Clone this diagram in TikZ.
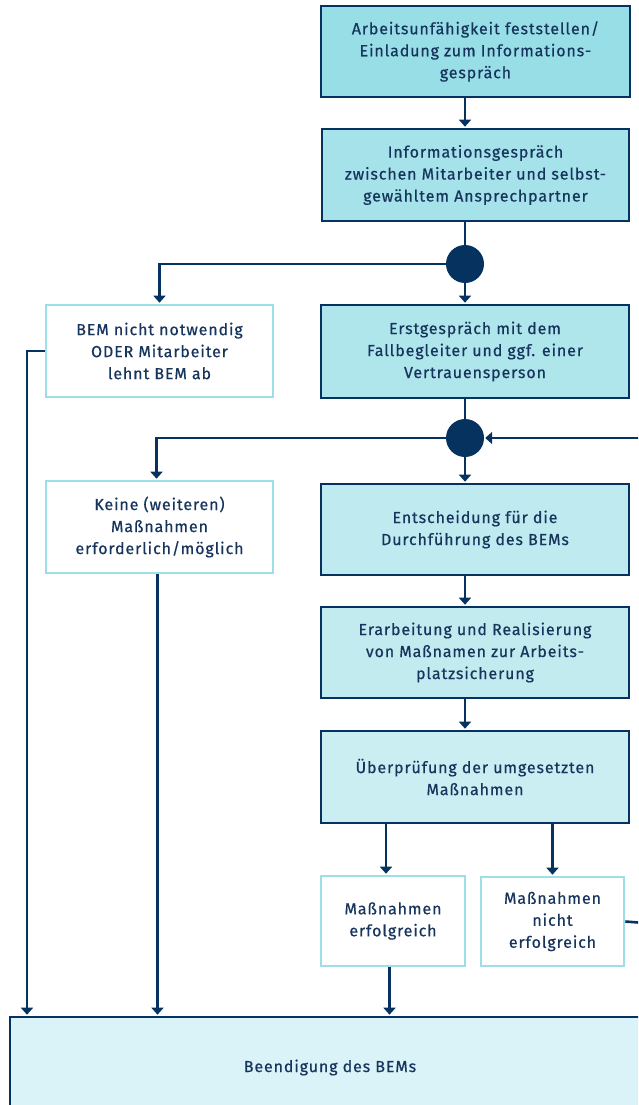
\documentclass[tikz,border=0pt]{standalone}
\usepackage{fontspec}
\setmainfont{Fira Sans}[LetterSpace=5.5, FakeBold=0.5]
\usetikzlibrary{arrows.meta}
\definecolor{navy}{RGB}{6,50,96}
\definecolor{txt}{RGB}{22,52,92}
\definecolor{lborder}{RGB}{158,223,231}
\definecolor{f1}{RGB}{151,222,230}
\definecolor{f2}{RGB}{165,226,234}
\definecolor{f3}{RGB}{175,230,236}
\definecolor{f4}{RGB}{190,234,240}
\definecolor{f5}{RGB}{194,235,240}
\definecolor{f6}{RGB}{203,238,243}
\definecolor{fb}{RGB}{218,243,248}
\tikzset{
  boxtext/.style={inner sep=0pt, align=center, text=txt,
    font=\fontsize{16}{22}\selectfont, execute at begin node={\rule{0pt}{15.5pt}}},
  mainbox/.style={boxtext, draw=navy, line width=2.6pt},
  sidebox/.style={boxtext, draw=lborder, fill=white, line width=2.6pt},
  conn/.style={draw=navy, line width=2.6pt},
  arr/.style={conn, -{Triangle[width=12pt,length=7pt]}, shorten >=1pt},
  junction/.style={circle, fill=navy, minimum size=38pt, inner sep=0pt}
}
\begin{document}
\begin{tikzpicture}[x=1pt,y=-1pt]
\useasboundingbox (0,0) rectangle (638,1105);
\clip (0,0) rectangle (638,1105);
\node[mainbox, fill=f1, minimum width=309pt, minimum height=91pt] (b1) at (475.5,51.5)
  {Arbeitsunfähigkeit feststellen/\\Einladung zum Informations-\\gespräch};
\node[mainbox, fill=f2, minimum width=307pt, minimum height=92pt] (b2) at (475.5,175)
  {Informationsgespräch\\zwischen Mitarbeiter und selbst-\\gewähltem Ansprechpartner};
\node[junction] (c1) at (465,264) {};
\node[sidebox, minimum width=227pt, minimum height=92pt] (l1) at (159.5,351)
  {BEM nicht notwendig\\ODER Mitarbeiter\\lehnt BEM ab};
\node[mainbox, fill=f3, minimum width=308pt, minimum height=93pt] (b3) at (475,351.5)
  {Erstgespräch mit dem\\Fallbegleiter und ggf. einer\\Vertrauensperson};
\node[junction] (c2) at (465,438) {};
\node[sidebox, minimum width=227pt, minimum height=92pt] (l2) at (159.5,527)
  {Keine (weiteren)\\Maßnahmen\\erforderlich/möglich};
\node[mainbox, fill=f4, minimum width=308pt, minimum height=91pt] (b4) at (475,529.5)
  {Entscheidung für die\\Durchführung des BEMs};
\node[mainbox, fill=f5, minimum width=308pt, minimum height=91pt] (b5) at (475,652.5)
  {Erarbeitung und Realisierung\\von Maßnamen zur Arbeits-\\platzsicherung};
\node[mainbox, fill=f6, minimum width=308pt, minimum height=92pt] (b6) at (475,777)
  {Überprüfung der umgesetzten\\Maßnahmen};
\node[sidebox, minimum width=144pt, minimum height=90pt] (s1) at (393,921)
  {Maßnahmen\\erfolgreich};
\node[sidebox, minimum width=143pt, minimum height=89pt] (s2) at (552.5,921.5)
  {Maßnahmen\\nicht\\erfolgreich};
\node[mainbox, fill=fb, minimum width=640pt, minimum height=98pt] (bot) at (330,1066)
  {Beendigung des BEMs};
\coordinate (xl) at (27,0);
\coordinate (rin) at (645,438);
\coordinate (rout) at (645,923);
% connectors
\draw[arr] (b1.south -| c1) -- (b2.north -| c1);
\draw[conn] (b2.south -| c1) -- (c1.north);
\draw[arr] (c1.west) -| (l1.north);
\draw[arr] (c1.south) -- (b3.north -| c1);
\draw[conn] (b3.south -| c2) -- (c2.north);
\draw[arr] (c2.west) -| ([xshift=-3pt]l2.north);
\draw[arr] (c2.south) -- (b4.north -| c2);
\draw[arr] (rin) -- (c2.east);
\draw[arr] (b4.south -| c2) -- (b5.north -| c2);
\draw[arr] (b5.south -| c2) -- (b6.north -| c2);
\draw[arr] (b6.south -| 386,0) -- ([xshift=-7pt]s1.north);
\draw[arr] (b6.south -| s2) -- (s2.north);
\draw[conn] (s2.east) -- (rout);
\draw[arr] (l1.west) -- (l1.west -| xl) -- (bot.north -| xl);
\draw[arr] ([xshift=-2pt]l2.south) -- ([xshift=-2pt]l2.south |- bot.north);
\draw[arr] ([xshift=-3.5pt]s1.south) -- ([xshift=-3.5pt]s1.south |- bot.north);
\end{tikzpicture}
\end{document}
